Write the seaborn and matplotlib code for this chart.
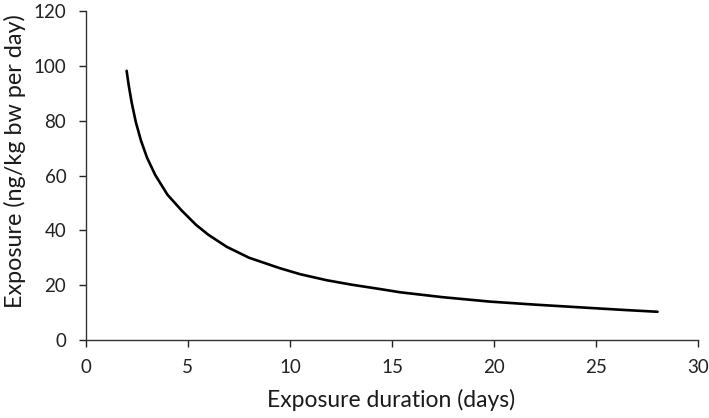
import matplotlib
matplotlib.use("Agg")
import matplotlib.pyplot as plt
import seaborn as sns
import pandas as pd

duration_days = [2.0, 2.1, 2.25, 2.45, 2.7, 3.0, 3.4, 4.0, 4.7, 5.4, 6.0,
                 6.9, 8.0, 9.5, 10.5, 11.8, 13.0, 14.4, 15.4, 17.5, 19.8,
                 22.0, 24.9, 26.5, 28.0]
exposure = [98.2, 93.0, 86.5, 79.5, 72.8, 66.5, 60.2, 53.0, 47.2, 42.0, 38.4,
            34.0, 30.0, 26.2, 24.0, 21.8, 20.2, 18.6, 17.4, 15.6, 14.0,
            12.9, 11.6, 10.9, 10.3]

x_ticks = [0, 5, 10, 15, 20, 25, 30]
y_ticks = [0, 20, 40, 60, 80, 100, 120]

sns.set_theme(style="ticks")
plt.rcParams['font.family'] = ['Lato', 'DejaVu Sans']

df = pd.DataFrame({"days": duration_days, "exposure": exposure})

fig = plt.figure(figsize=(7.09, 4.18), dpi=100)
ax = fig.add_axes([0.121, 0.1866, 0.864, 0.787])

sns.lineplot(data=df, x="days", y="exposure", ax=ax, color="black", linewidth=1.9)

ax.set_xlim(0, 30)
ax.set_ylim(0, 120)
ax.set_xticks(x_ticks)
ax.set_yticks(y_ticks)
ax.set_xlabel("Exposure duration (days)", fontsize=16.5, color="#1a1a1a")
ax.set_ylabel("Exposure (ng/kg bw per day)", fontsize=16.8, color="#1a1a1a")
ax.xaxis.set_label_coords(0.4985, -0.15)
ax.yaxis.set_label_coords(-0.098, 0.545)
ax.tick_params(axis="both", labelsize=13.5, colors="#222222", length=5, width=1.0, direction="out")
ax.tick_params(axis="x", pad=9)
ax.tick_params(axis="y", pad=9)
for s in ["top", "right"]:
    ax.spines[s].set_visible(False)
for s in ["left", "bottom"]:
    ax.spines[s].set_color("#333333")
    ax.spines[s].set_linewidth(1.0)

fig.savefig("out.png", dpi=100)
